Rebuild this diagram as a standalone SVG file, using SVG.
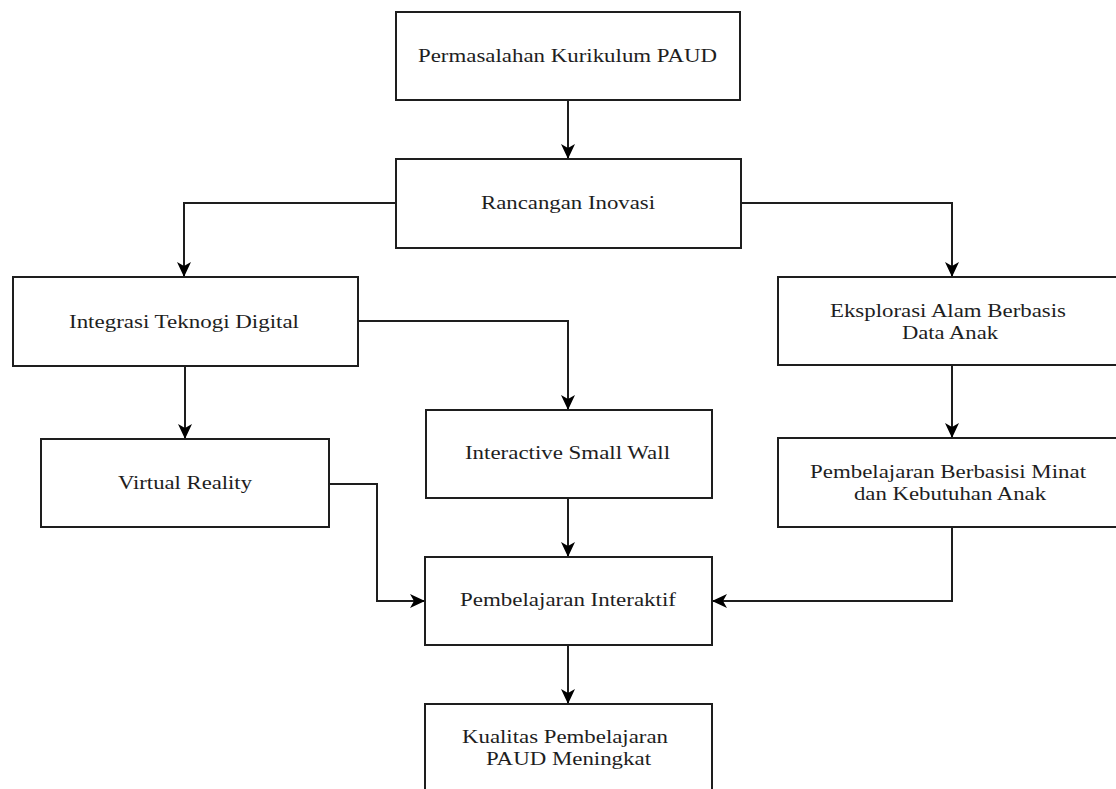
<svg xmlns="http://www.w3.org/2000/svg" width="1116" height="789" viewBox="0 0 1116 789">
<style>
.box{fill:#fff;stroke:#1e1e1e;stroke-width:2}
.lbl{font-family:"Liberation Serif","Times New Roman",serif;font-size:19px;fill:#1e1e1e;text-anchor:middle}
.con{fill:none;stroke:#1e1e1e;stroke-width:2}
</style>
<defs>
<marker id="arr" viewBox="0 0 15 14" refX="15" refY="7" markerWidth="15" markerHeight="14" markerUnits="userSpaceOnUse" orient="auto">
<path d="M0,0 L15,7 L0,14 L4,7 Z" fill="#000"/>
</marker>
</defs>
<rect width="1116" height="789" fill="#fff"/>
<g id="connectors">
<path class="con" marker-end="url(#arr)" d="M568,100 V159"/>
<path class="con" marker-end="url(#arr)" d="M396,203 H184 V277"/>
<path class="con" marker-end="url(#arr)" d="M741,203 H952 V277"/>
<path class="con" marker-end="url(#arr)" d="M185,366 V439"/>
<path class="con" marker-end="url(#arr)" d="M358,321 H568 V410"/>
<path class="con" marker-end="url(#arr)" d="M952,365 V438"/>
<path class="con" marker-end="url(#arr)" d="M329,484 H377 V601 H425"/>
<path class="con" marker-end="url(#arr)" d="M568,498 V557"/>
<path class="con" marker-end="url(#arr)" d="M952,527 V601 H712"/>
<path class="con" marker-end="url(#arr)" d="M568,645 V704"/>
</g>
<g id="n1"><rect class="box" x="396" y="12" width="344" height="88"/><text class="lbl" x="567.5" y="62" textLength="299" lengthAdjust="spacingAndGlyphs">Permasalahan Kurikulum PAUD</text></g>
<g id="n2"><rect class="box" x="396" y="159" width="345" height="89"/><text class="lbl" x="568" y="209" textLength="174" lengthAdjust="spacingAndGlyphs">Rancangan Inovasi</text></g>
<g id="n3"><rect class="box" x="13" y="277" width="345" height="89"/><text class="lbl" x="184" y="328" textLength="230" lengthAdjust="spacingAndGlyphs">Integrasi Teknogi Digital</text></g>
<g id="n4"><rect class="box" x="778" y="277" width="345" height="88"/><text class="lbl" x="948" y="317" textLength="236" lengthAdjust="spacingAndGlyphs">Eksplorasi Alam Berbasis</text><text class="lbl" x="950" y="339" textLength="96" lengthAdjust="spacingAndGlyphs">Data Anak</text></g>
<g id="n5"><rect class="box" x="41" y="439" width="288" height="88"/><text class="lbl" x="185" y="489" textLength="134" lengthAdjust="spacingAndGlyphs">Virtual Reality</text></g>
<g id="n6"><rect class="box" x="426" y="410" width="286" height="88"/><text class="lbl" x="567.5" y="459" textLength="205" lengthAdjust="spacingAndGlyphs">Interactive Small Wall</text></g>
<g id="n7"><rect class="box" x="778" y="438" width="345" height="89"/><text class="lbl" x="948" y="478" textLength="276" lengthAdjust="spacingAndGlyphs">Pembelajaran Berbasisi Minat</text><text class="lbl" x="950" y="500" textLength="192" lengthAdjust="spacingAndGlyphs">dan Kebutuhan Anak</text></g>
<g id="n8"><rect class="box" x="425" y="557" width="287" height="88"/><text class="lbl" x="568" y="606" textLength="216" lengthAdjust="spacingAndGlyphs">Pembelajaran Interaktif</text></g>
<g id="n9"><rect class="box" x="425" y="704" width="287" height="100"/><text class="lbl" x="565" y="743" textLength="206" lengthAdjust="spacingAndGlyphs">Kualitas Pembelajaran</text><text class="lbl" x="568.5" y="765" textLength="165" lengthAdjust="spacingAndGlyphs">PAUD Meningkat</text></g>
</svg>
